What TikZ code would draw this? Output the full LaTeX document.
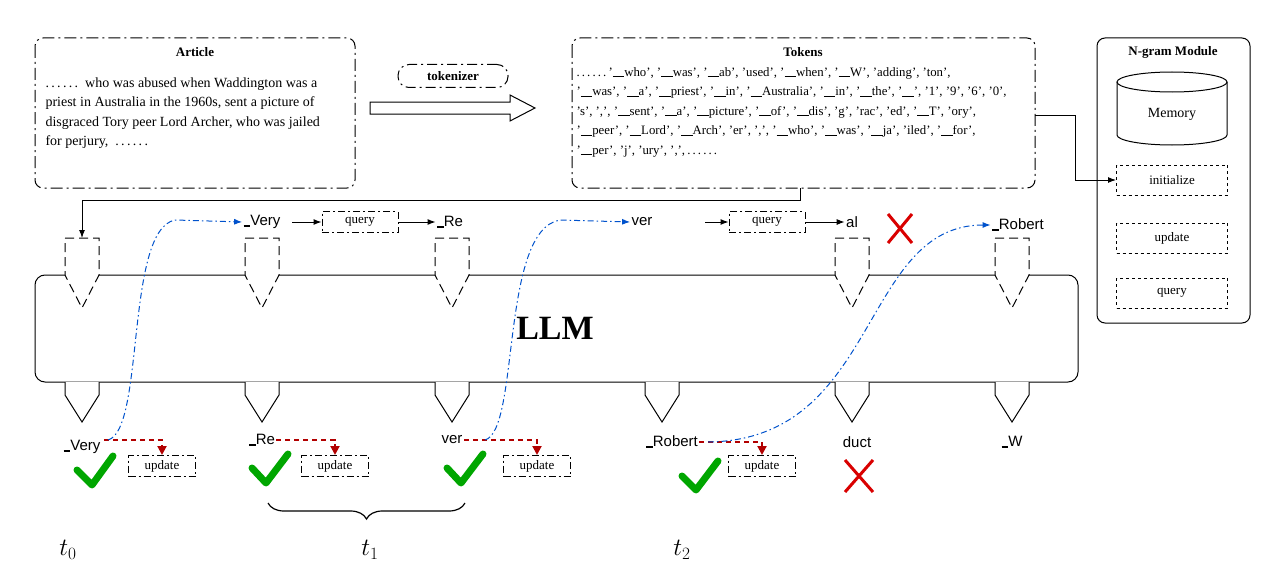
\documentclass[tikz,border=0pt]{standalone}
\usepackage{fontspec}
\setmainfont{Liberation Serif}
\newfontfamily\sans{Liberation Sans}
\usetikzlibrary{shapes.geometric,arrows.meta,decorations.pathreplacing}
\newcommand{\ubar}{\rule[-1pt]{0.9em}{0.9pt}}
\newcommand{\sbar}{\rule[-1pt]{0.45em}{1.8pt}}
\begin{document}
\begin{tikzpicture}[x=1pt,y=-1pt,line width=1pt,
 dd/.style={draw,dash pattern=on 12pt off 4pt on 2pt off 4pt,rounded corners=8pt},
 dot/.style={draw,dash pattern=on 7pt off 3pt on 2pt off 3pt,inner sep=0pt,minimum width=67pt,minimum height=21pt,font=\fontsize{13}{13}\selectfont},
 mbox/.style={draw,dash pattern=on 3pt off 3pt,minimum width=111pt,minimum height=30pt,font=\fontsize{13}{13}\selectfont},
 lab/.style={font=\sans\fontsize{15}{15}\selectfont,inner sep=1pt},
 bl/.style={draw=blue!60!cyan!80!black,dash pattern=on 6pt off 3pt on 1.5pt off 3pt,line width=1pt,-{Latex[length=8pt]}},
 rd/.style={draw=red!70!black,dash pattern=on 5pt off 4pt,line width=2pt,-{Triangle[length=9pt,width=9pt]}},
 chk/.style={draw=green!65!black,line width=7pt,line cap=round,line join=round},
 rx/.style={draw=red!85!black,line width=3pt},
 ar/.style={-{Latex[length=8pt]}}]
\useasboundingbox (0,0) rectangle (1280,586);
% Article
\draw[dd] (35,38) rectangle (355,188);
\node[font=\bfseries\fontsize{13}{13}\selectfont] (at) at (195,52) {Article};
\node[anchor=north west,align=left,font=\fontsize{14}{19.5}\selectfont,inner sep=0pt] (atx) at (45,77) {.\,.\,.\,.\,.\,.\enspace who was abused when Waddington was a\\ priest in Australia in the 1960s, sent a picture of\\ disgraced Tory peer Lord Archer, who was jailed\\ for perjury,\enspace .\,.\,.\,.\,.\,.};
% tokenizer
\node[draw,dash pattern=on 10pt off 4pt on 2pt off 4pt,rounded corners=11pt,minimum width=110pt,minimum height=23pt,font=\bfseries\fontsize{13}{13}\selectfont] (tok) at (453,76) {tokenizer};
\draw (370,102)--(510,102)--(510,95)--(535,108)--(510,121)--(510,114)--(370,114)--cycle;
% Tokens
\draw[dd] (572,38) rectangle (1035,188);
\node[font=\bfseries\fontsize{13}{13}\selectfont] at (803,52) {Tokens};
\coordinate (tkr) at (1035,115);
\coordinate (tkb) at (800,188);
\node[anchor=north west,align=left,font=\fontsize{12.8}{19.5}\selectfont,inner sep=0pt] at (576,67) {.\,.\,.\,.\,.\,.\,'\ubar who', '\ubar was', '\ubar ab', 'used', '\ubar when', '\ubar W', 'adding', 'ton',\\
'\ubar was', '\ubar a', '\ubar priest', '\ubar in', '\ubar Australia', '\ubar in', '\ubar the', '\ubar', '1', '9', '6', '0',\\
's', ',', '\ubar sent', '\ubar a', '\ubar picture', '\ubar of', '\ubar dis', 'g', 'rac', 'ed', '\ubar T', 'ory',\\
'\ubar peer', '\ubar Lord', '\ubar Arch', 'er', ',', '\ubar who', '\ubar was', '\ubar ja', 'iled', '\ubar for',\\
'\ubar per', 'j', 'ury', ',',\,.\,.\,.\,.\,.\,.};
% N-gram
\draw[rounded corners=8pt] (1097,38) rectangle (1250,323);
\node[font=\bfseries\fontsize{13}{13}\selectfont] at (1173,52) {N-gram Module};
\draw (1117,82) -- (1117,135) arc[start angle=180,end angle=360,x radius=55,y radius=-10] -- (1227,82);
\draw (1172,82) ellipse[x radius=55,y radius=10];
\node[font=\fontsize{14}{14}\selectfont] (mem) at (1172,114) {Memory};
\node[mbox] (ini) at (1172,180) {initialize};
\node[mbox] (upd) at (1172,238) {update};
\node[mbox] (qry) at (1172,293) {query};
\draw[ar] (tkr) -- (1075,115) |- (ini.west);
% LLM
\draw[rounded corners=10pt] (35,275) rectangle (1078,382);
\node[font=\bfseries\fontsize{34}{34}\selectfont] (llm) at (555,328) {LLM};
\foreach \x/\n in {82/a,262/b,452/c,852/d,1012/e}{
 \fill[white] (\x-17,238)--(\x+17,238)--(\x+17,275)--(\x,308)--(\x-17,275)--cycle;
 \draw[dash pattern=on 9pt off 5pt] (\x-17,238)--(\x+17,238)--(\x+17,275)--(\x,308)--(\x-17,275)--cycle;
 \coordinate (in\n) at (\x,238);}
\foreach \x in {82,262,452,662,852,1012}{
 \fill[white] (\x-17,382)--(\x+17,382)--(\x+17,395)--(\x,422)--(\x-17,395)--cycle;
 \draw (\x-17,382)--(\x-17,395)--(\x,422)--(\x+17,395)--(\x+17,382);}
\draw[ar] (tkb) -- (800,200) -| (ina);
% top labels
\node[lab] (tv) at (262,222) {\sbar Very};
\node[dot,minimum width=76pt] (q1) at (360,222) {query};
\node[lab] (tr) at (450,222) {\sbar Re};
\draw[ar] (292,222) -- (q1.west);
\draw[ar] (q1.east) -- (tr.west);
\node[lab] (tver) at (642,222) {ver};
\node[dot,minimum width=76pt] (q2) at (767,222) {query};
\node[lab] (tal) at (852,222) {al};
\draw[ar] (705,222) -- (q2.west);
\draw[ar] (q2.east) -- (tal.west);
\draw[rx] (888,214)--(912,243) (912,214)--(888,243);
\node[lab] (trob) at (1018,225) {\sbar Robert};
% bottom labels
\node[lab] (bv) at (82,447) {\sbar Very};
\node[lab] (br) at (262,440) {\sbar Re};
\node[lab] (bver) at (452,440) {ver};
\node[lab] (brob) at (672,442) {\sbar Robert};
\node[lab] (bduct) at (857,442) {duct};
\node[lab] (bw) at (1012,442) {\sbar W};
\node[dot] (u1) at (162,466) {update};
\node[dot] (u2) at (335,466) {update};
\node[dot] (u3) at (537,466) {update};
\node[dot] (u4) at (762,466) {update};
\draw[rd] (bv.east)++(2,-7) -| (u1.north);
\draw[rd] (br.east) -| (u2.north);
\draw[rd] (bver.east) -| (u3.north);
\draw[rd] (brob.east) -| (u4.north);
\draw[chk] (77,470)--(92,485)--(113,456);
\draw[chk] (252,468)--(266,483)--(288,454);
\draw[chk] (447,468)--(461,483)--(483,454);
\draw[chk] (682,476)--(696,490)--(718,461);
\draw[rx] (845,460)--(873,492) (873,460)--(845,492);
% blue curves
\draw[bl] (108,440) .. controls (145,430) and (125,230) .. (175,220) -- (tv.west);
\draw[bl] (485,440) .. controls (520,430) and (500,230) .. (560,220) -- (tver.west);
\draw[bl] (708,442) .. controls (880,440) and (860,225) .. (trob.west);
% brace
\draw[line width=1.2pt,decorate,decoration={brace,amplitude=16pt,mirror}] (268,503) -- (465,503);
\node[font=\itshape\fontsize{26}{26}\selectfont] at (68,550) {$t_0$};
\node[font=\itshape\fontsize{26}{26}\selectfont] (t1) at (370,550) {$t_1$};
\node[font=\itshape\fontsize{26}{26}\selectfont] at (682,550) {$t_2$};
\end{tikzpicture}
\end{document}
